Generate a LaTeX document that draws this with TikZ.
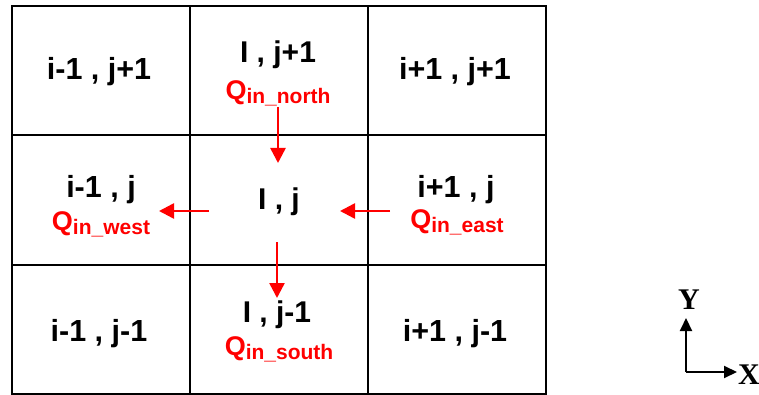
\documentclass[tikz,border=0pt]{standalone}
\usepackage{fontspec}
\setmainfont{Liberation Sans}
\newfontfamily\axfont{Liberation Serif}
\usetikzlibrary{arrows.meta}
\begin{document}
\begin{tikzpicture}[x=1pt,y=-1pt,
  cell/.style={draw=black,line width=2pt},
  lbl/.style={font=\bfseries\fontsize{30.5}{30.5}\selectfont, anchor=base, inner sep=0pt},
  clbl/.style={font=\bfseries\fontsize{30}{30}\selectfont, anchor=base, inner sep=0pt},
  qlbl/.style={text=red, font=\bfseries\fontsize{27}{27}\selectfont, anchor=base, inner sep=0pt},
  flow/.style={draw=red, line width=2.5pt, -{Triangle[length=15pt,width=15pt]}},
  axis/.style={draw=black, line width=2pt, -{Triangle[length=13pt,width=12pt]}},
  axlbl/.style={font=\axfont\bfseries\fontsize{30}{30}\selectfont, inner sep=0pt}]
\useasboundingbox (0,0) rectangle (759,395);
% grid
\draw[cell] (12,6) rectangle (546,394);
\draw[cell] (190,6) -- (190,394);
\draw[cell] (368,6) -- (368,394);
\draw[cell] (12,135) -- (546,135);
\draw[cell] (12,265) -- (546,265);
% cell labels
\node[lbl] (nw) at (99,80) {i-1 , j+1};
\node[clbl] (n) at (278,63) {I , j+1};
\node[lbl] (ne) at (455,80) {i+1 , j+1};
\node[lbl] (w) at (101,198) {i-1 , j};
\node[clbl] (c) at (279,210) {I , j};
\node[lbl] (e) at (456,198) {i+1 , j};
\node[lbl] (sw) at (99,341) {i-1 , j-1};
\node[clbl] (s) at (277,322) {I , j-1};
\node[lbl] (se) at (455,341) {i+1 , j-1};
% flux labels
\node[qlbl] (qn) at (278,100) {Q\raisebox{-4pt}{\fontsize{21}{21}\selectfont in\_north}};
\node[qlbl] (qw) at (101,230) {Q\raisebox{-4pt}{\fontsize{21}{21}\selectfont in\_west}};
\node[qlbl] (qe) at (457,229) {Q\raisebox{-4pt}{\fontsize{21}{21}\selectfont in\_east}};
\node[qlbl] (qs) at (279,355) {Q\raisebox{-4pt}{\fontsize{21}{21}\selectfont in\_south}};
% arrow ends
\coordinate (nA) at (278,107);
\coordinate (nB) at (278,163);
\coordinate (eA) at (390,211);
\coordinate (eB) at (340,211);
\coordinate (wA) at (209,211);
\coordinate (wB) at (159,211);
\coordinate (sA) at (277,242);
\coordinate (sB) at (277,298);
\draw[flow] (nA) -- (nB);
\draw[flow] (eA) -- (eB);
\draw[flow] (wA) -- (wB);
\draw[flow] (sA) -- (sB);
% axes
\coordinate (o) at (686,372);
\coordinate (ytip) at (686,318);
\coordinate (xtip) at (737,372);
\draw[axis] (o) -- (ytip);
\draw[axis] (o) -- (xtip);
\node[axlbl, anchor=base] (ylab) at (689,309) {Y};
\node[axlbl, anchor=base west] (xlab) at (738,384) {X};
\end{tikzpicture}
\end{document}
